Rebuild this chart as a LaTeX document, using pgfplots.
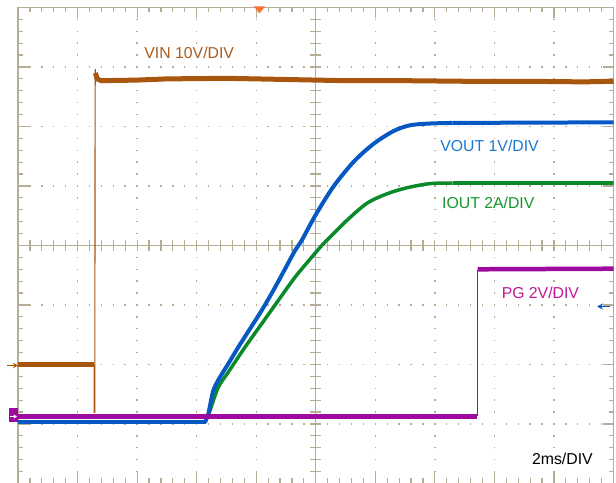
\documentclass[border=0pt]{standalone}
\usepackage{pgfplots}
\pgfplotsset{compat=1.18}
\usepackage{fontspec}
\setmainfont{Liberation Sans}
\usetikzlibrary{arrows.meta}
\definecolor{gridc}{RGB}{182,174,148}
\definecolor{vinc}{RGB}{168,86,14}
\definecolor{vinl}{RGB}{168,92,32}
\definecolor{voutc}{RGB}{8,88,196}
\definecolor{voutl}{RGB}{30,120,210}
\definecolor{ioutc}{RGB}{10,138,40}
\definecolor{ioutl}{RGB}{20,150,45}
\definecolor{pgc}{RGB}{158,10,160}
\definecolor{pgl}{RGB}{192,25,150}
\definecolor{trigc}{RGB}{255,110,50}
\newcommand{\lbl}{\fontsize{15.8bp}{18bp}\selectfont}
\begin{document}
\begin{tikzpicture}
\useasboundingbox (-18bp,0.5bp) rectangle (598bp,483.5bp);
\fill[white] (-18bp,0.5bp) rectangle (598bp,483.5bp);
% dotted grid
\foreach \i in {1,2,3,4,6,7,8,9}
  \draw[gridc, line width=1.4bp, dash pattern=on 1.4bp off 10.5bp, dash phase=0.7bp] (\i*59.55bp,0bp) -- (\i*59.55bp,476bp);
\foreach \j in {1,2,3,5,6,7}
  \draw[gridc, line width=1.4bp, dash pattern=on 1.4bp off 10.51bp, dash phase=0.7bp] (0bp,\j*59.5bp) -- (595.5bp,\j*59.5bp);
% centre cross
\draw[gridc, line width=1.3bp] (297.75bp,0bp) -- (297.75bp,476bp);
\draw[gridc, line width=1.3bp] (0bp,238bp) -- (595.5bp,238bp);
\foreach \k in {1,...,49}
  \draw[gridc, line width=1.2bp] (\k*11.91bp,232.5bp) -- ++(0bp,11bp);
\foreach \k in {1,...,39}
  \draw[gridc, line width=1.2bp] (292.25bp,\k*11.9bp) -- ++(11bp,0bp);
% border ticks
\foreach \k in {1,...,49}{
  \draw[gridc, line width=1.2bp] (\k*11.91bp,476bp) -- ++(0bp,-5bp);
  \draw[gridc, line width=1.2bp] (\k*11.91bp,0bp) -- ++(0bp,5bp);}
\foreach \k in {1,...,39}{
  \draw[gridc, line width=1.2bp] (0bp,\k*11.9bp) -- ++(5bp,0bp);
  \draw[gridc, line width=1.2bp] (595.5bp,\k*11.9bp) -- ++(-5bp,0bp);}
\foreach \k in {1,...,9}{
  \draw[gridc, line width=1.2bp] (\k*59.55bp,476bp) -- ++(0bp,-11bp);
  \draw[gridc, line width=1.2bp] (\k*59.55bp,0bp) -- ++(0bp,11bp);}
\foreach \k in {1,...,7}{
  \draw[gridc, line width=1.2bp] (0bp,\k*59.5bp) -- ++(11bp,0bp);
  \draw[gridc, line width=1.2bp] (595.5bp,\k*59.5bp) -- ++(-11bp,0bp);}
\begin{axis}[at={(0,0)}, anchor=south west, scale only axis,
  width=595.5bp, height=476bp,
  xmin=0, xmax=10, ymin=0, ymax=8,
  xtick=\empty, ytick=\empty,
  axis line style={gridc, line width=1.4bp},
  clip=true]
% VIN
\addplot[vinc, line width=5bp] coordinates {(0,2.0) (1.28,2.0)};
\addplot[vinc, line width=1.1bp] coordinates {(1.28,2.0) (1.28,1.19) (1.29,1.19) (1.295,6.96)};
\addplot[vinc, line width=5bp, line join=round] coordinates {(1.30,6.90) (1.33,6.80) (1.40,6.77) (2.0,6.78) (2.5,6.80) (3.5,6.81) (4.5,6.79) (5.5,6.77) (6.5,6.77) (7.5,6.76) (8.5,6.76) (9.5,6.75) (10,6.76)};
\addplot[vinc, line width=1.6bp] coordinates {(1.30,6.70) (1.30,6.96)};
% IOUT
\addplot[ioutc, line width=3.5bp] coordinates {(0,1.13) (3.20,1.13)};
\addplot[ioutc, line width=3.5bp, smooth, tension=0.5] coordinates {(3.19,1.13) (3.224,1.227) (3.364,1.618) (3.531,1.871) (3.812,2.291) (4.092,2.684) (4.371,3.076) (4.652,3.467) (4.932,3.803) (5.127,4.029) (5.30,4.20) (5.52,4.42) (5.86,4.71) (6.20,4.87) (6.53,4.97) (6.92,5.04) (7.3,5.05)};
\addplot[ioutc, line width=3.5bp] coordinates {(7.3,5.05) (10,5.05)};
% VOUT
\addplot[voutc, line width=4bp] coordinates {(0,1.03) (3.15,1.03)};
\addplot[voutc, line width=4bp, smooth, tension=0.5] coordinates {(3.14,1.03) (3.196,1.171) (3.280,1.563) (3.392,1.787) (3.531,2.012) (3.699,2.291) (3.896,2.600) (4.092,2.908) (4.287,3.244) (4.455,3.551) (4.652,3.916) (4.764,4.084) (4.99,4.50) (5.29,4.98) (5.63,5.40) (5.96,5.70) (6.30,5.92) (6.58,6.02) (6.92,6.05) (7.3,6.06)};
\addplot[voutc, line width=4bp] coordinates {(7.3,6.06) (10,6.07)};
% PG
\addplot[pgc, line width=4.5bp] coordinates {(0,1.13) (7.71,1.13)};
\addplot[pgc, line width=1.1bp] coordinates {(7.715,1.13) (7.715,3.59)};
\addplot[pgc, line width=4.5bp] coordinates {(7.72,3.60) (10,3.61)};
% labels
\node[anchor=west, inner sep=0pt, text=vinl, font=\lbl] at (axis cs:2.12,7.24) {VIN 10V/DIV};
\node[anchor=west, inner sep=0pt, text=voutl, font=\lbl] at (axis cs:7.09,5.68) {VOUT 1V/DIV};
\node[anchor=west, inner sep=0pt, text=ioutl, font=\lbl] at (axis cs:7.12,4.71) {IOUT 2A/DIV};
\node[anchor=west, inner sep=0pt, text=pgl, font=\lbl] at (axis cs:8.12,3.21) {PG 2V/DIV};
\node[anchor=west, inner sep=0pt, text=black, font=\lbl] at (axis cs:8.63,0.42) {2ms/DIV};
\end{axis}
% markers
\fill[trigc] (236bp,477bp) -- (247bp,477bp) -- (241.5bp,470bp) -- cycle;
\draw[vinc, line width=1.4bp, -{Stealth[length=5bp,width=5bp]}] (-11bp,118bp) -- (0bp,118bp);
\fill[pgc] (-9bp,61bp) rectangle (0bp,75bp);
\draw[white, line width=1.2bp, -{Stealth[length=3.5bp,width=4bp]}] (-8bp,67bp) -- (-1bp,67bp);
\draw[voutc, line width=1.6bp, -{Stealth[length=6bp,width=6bp]}] (592bp,177bp) -- (579bp,177bp);
\end{tikzpicture}
\end{document}
